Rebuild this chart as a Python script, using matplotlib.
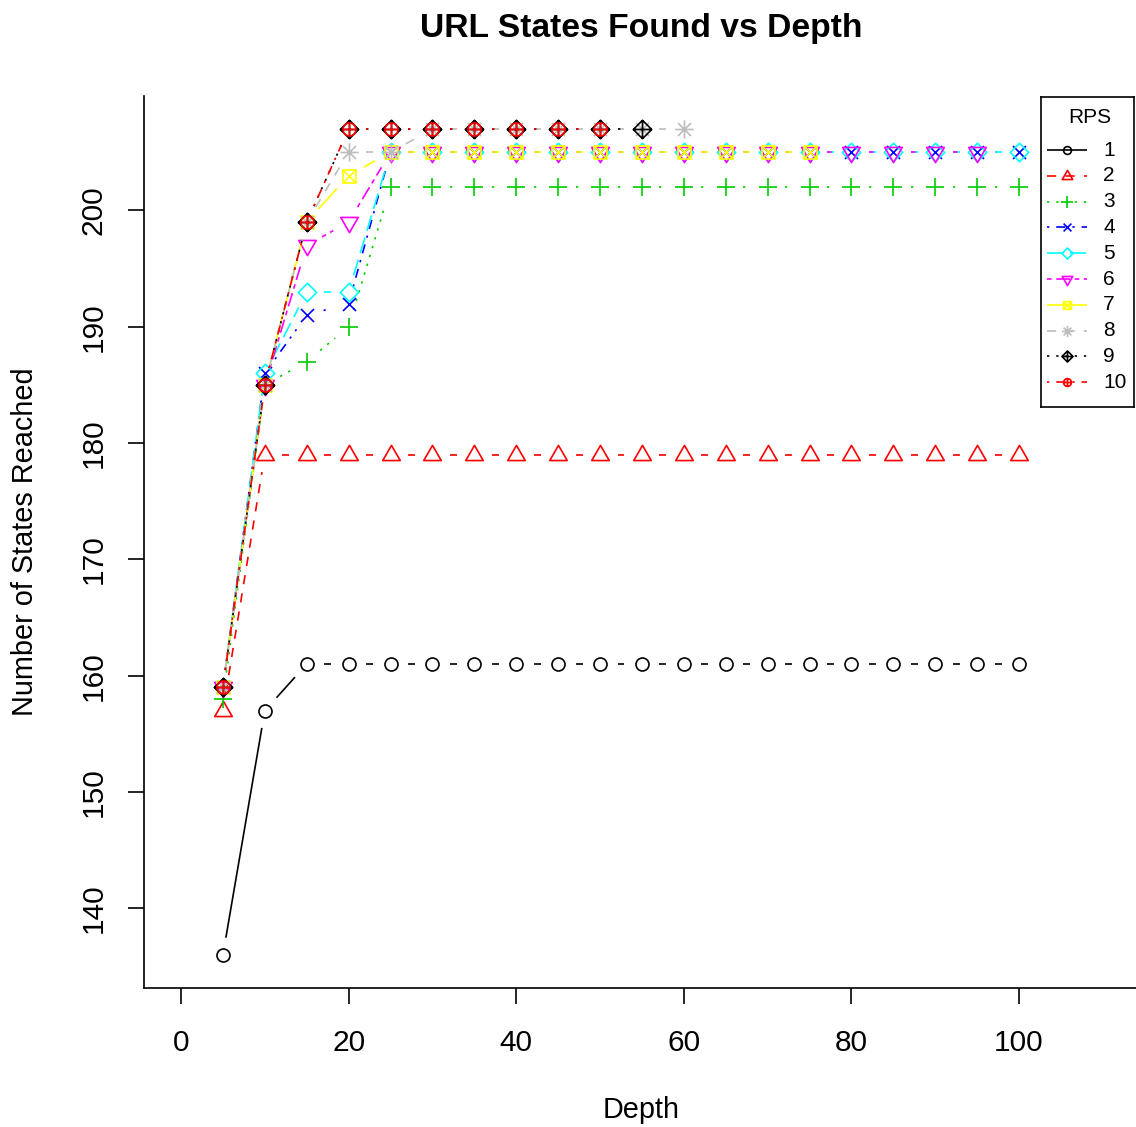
import numpy as np
import matplotlib
matplotlib.use("Agg")
import matplotlib.pyplot as plt
from matplotlib.path import Path

plt.rcParams['font.family'] = ['Liberation Sans', 'DejaVu Sans']
plt.rcParams['lines.scale_dashes'] = False

# ---------------- data ----------------
depth = [5, 10, 15, 20, 25, 30, 35, 40, 45, 50, 55, 60, 65, 70, 75, 80, 85, 90, 95, 100]
rps_labels = ["1", "2", "3", "4", "5", "6", "7", "8", "9", "10"]
rps1 = [136, 157] + [161] * 18
rps2 = [157] + [179] * 19
rps3 = [158, 185, 187, 190] + [202] * 16
rps4 = [159, 186, 191, 192] + [205] * 16
rps5 = [159, 186, 193, 193] + [205] * 16
rps6 = [159, 185, 197, 199] + [205] * 15
rps7 = [159, 185, 199, 203] + [205] * 11
rps8 = [159, 185, 199, 205, 205] + [207] * 7
rps9 = [159, 185, 199] + [207] * 8
rps10 = [159, 185, 199] + [207] * 7
series = [rps1, rps2, rps3, rps4, rps5, rps6, rps7, rps8, rps9, rps10]

colors = ["#000000", "#FF0000", "#00CD00", "#0000FF", "#00FFFF",
          "#FF00FF", "#FFFF00", "#BEBEBE", "#000000", "#FF0000"]

# ---------------- styles ----------------
U = 1.66  # dash unit in points
dash_styles = {
    1: None,
    2: (4, 4),
    3: (1, 3),
    4: (1, 3, 4, 3),
    5: (7, 3),
    6: (2, 2, 6, 2),
}
ltys = [1, 2, 3, 4, 5, 6, 1, 2, 3, 4]

def ls_for(lty):
    d = dash_styles[lty]
    if d is None:
        return '-'
    return (0, tuple(v * U for v in d))

M, L = Path.MOVETO, Path.LINETO
plus_path = Path([(-1, 0), (1, 0), (0, -1), (0, 1)], [M, L, M, L])
x_path = Path([(-1, -1), (1, 1), (-1, 1), (1, -1)], [M, L, M, L])
diamond_path = Path([(0, 1), (1, 0), (0, -1), (-1, 0), (0, 1)], closed=True)
square_path = Path([(-1, -1), (1, -1), (1, 1), (-1, 1), (-1, -1)], closed=True)
tri_up = Path([(0, 1), (-0.866, -0.5), (0.866, -0.5), (0, 1)], closed=True)
tri_dn = Path([(0, -1), (-0.866, 0.5), (0.866, 0.5), (0, -1)], closed=True)
s2 = 1.0 / np.sqrt(2)
ast_x = Path([(-s2, -s2), (s2, s2), (-s2, s2), (s2, -s2)], [M, L, M, L])

markers = [
    'o',
    tri_up,
    plus_path,
    x_path,
    diamond_path,
    tri_dn,
    Path.make_compound_path(square_path, x_path),
    Path.make_compound_path(plus_path, ast_x),
    Path.make_compound_path(diamond_path, plus_path),
    Path.make_compound_path(Path.unit_circle(), plus_path),
]
PX = 0.72  # points per pixel at dpi 100
R = 6.5
msizes = [2 * R, 2 * 1.555 * R, 2 * 1.414 * R, 2 * R, 2 * 1.414 * R,
          2 * 1.555 * R, 2 * R, 2 * 1.414 * R, 2 * 1.414 * R, 2 * R]
msizes = [m * PX for m in msizes]

LW = 1.2

# ---------------- figure ----------------
W, H = 1136, 1127
fig = plt.figure(figsize=(W / 100, H / 100), dpi=100)
xlim = (-4.4, 114.4)
ylim = (133.16, 209.84)
x0px = 181 - 4.4 * 8.38
x1px = 181 + 114.4 * 8.38
ax = fig.add_axes([x0px / W, (H - 988) / H, (x1px - x0px) / W, (988 - 96) / H])
ax.set_xlim(*xlim)
ax.set_ylim(*ylim)

GAP = 17.5  # pixels
inv = ax.transData.inverted()

for i, ys in enumerate(series):
    xs = depth[:len(ys)]
    pts = ax.transData.transform(np.column_stack([xs, ys]))
    for j in range(len(pts) - 1):
        p0, p1 = pts[j], pts[j + 1]
        d = p1 - p0
        Ld = np.hypot(*d)
        if Ld > 2 * GAP:
            u = d / Ld
            a = inv.transform(p0 + u * GAP)
            b = inv.transform(p1 - u * GAP)
            ax.plot([a[0], b[0]], [a[1], b[1]], color=colors[i],
                    linestyle=ls_for(ltys[i]), lw=LW, solid_capstyle='butt',
                    dash_capstyle='butt', zorder=2 + i * 0.01)
    ax.plot(xs, ys, linestyle='none', marker=markers[i], ms=msizes[i],
            mfc='none', mec=colors[i], mew=LW, zorder=2 + i * 0.01)

for side in ['top', 'right']:
    ax.spines[side].set_visible(False)
for side in ['left', 'bottom']:
    ax.spines[side].set_linewidth(LW)

ax.set_xticks([0, 20, 40, 60, 80, 100])
ax.set_yticks([140, 150, 160, 170, 180, 190, 200])
ax.tick_params(direction='out', length=11.5, width=LW, labelsize=21.5)
ax.tick_params(axis='x', pad=18)
ax.tick_params(axis='y', pad=15)
for lab in ax.get_yticklabels():
    lab.set_rotation(90)
    lab.set_va('center')
    lab.set_ha('right')

fig.text(641 / W, 1 - 37 / H, "URL States Found vs Depth", ha='center', va='baseline',
         fontsize=24.2, fontweight='bold')
fig.text(641 / W, 1 - 1110 / H, "Depth", ha='center', va='center', fontsize=20.8)
fig.text(25 / W, 1 - 542 / H, "Number of States Reached", ha='center', va='center',
         fontsize=20.8, rotation=90)

# ---------------- legend (R-style box) ----------------
lx0, ly0, lw_, lh_ = 1041, 97, 93, 310
lax = fig.add_axes([lx0 / W, 1 - (ly0 + lh_) / H, lw_ / W, lh_ / H])
lax.set_xlim(0, lw_)
lax.set_ylim(lh_, 0)
lax.set_xticks([])
lax.set_yticks([])
for sp in lax.spines.values():
    sp.set_linewidth(LW)
    sp.set_color('black')
lax.text(49, 20, "RPS", ha='center', va='center', fontsize=15)
for i, lab in enumerate(rps_labels):
    yy = 53 + 25.8 * i
    lax.plot([6, 46], [yy, yy], color=colors[i], linestyle=ls_for(ltys[i]), lw=LW,
             solid_capstyle='butt', dash_capstyle='butt')
    lax.plot([26], [yy], linestyle='none', marker=markers[i], ms=msizes[i] * 0.6,
             mfc='none', mec=colors[i], mew=LW)
    lax.text(62, yy, lab, ha='left', va='center', fontsize=15)

fig.savefig("out.png", dpi=100)
